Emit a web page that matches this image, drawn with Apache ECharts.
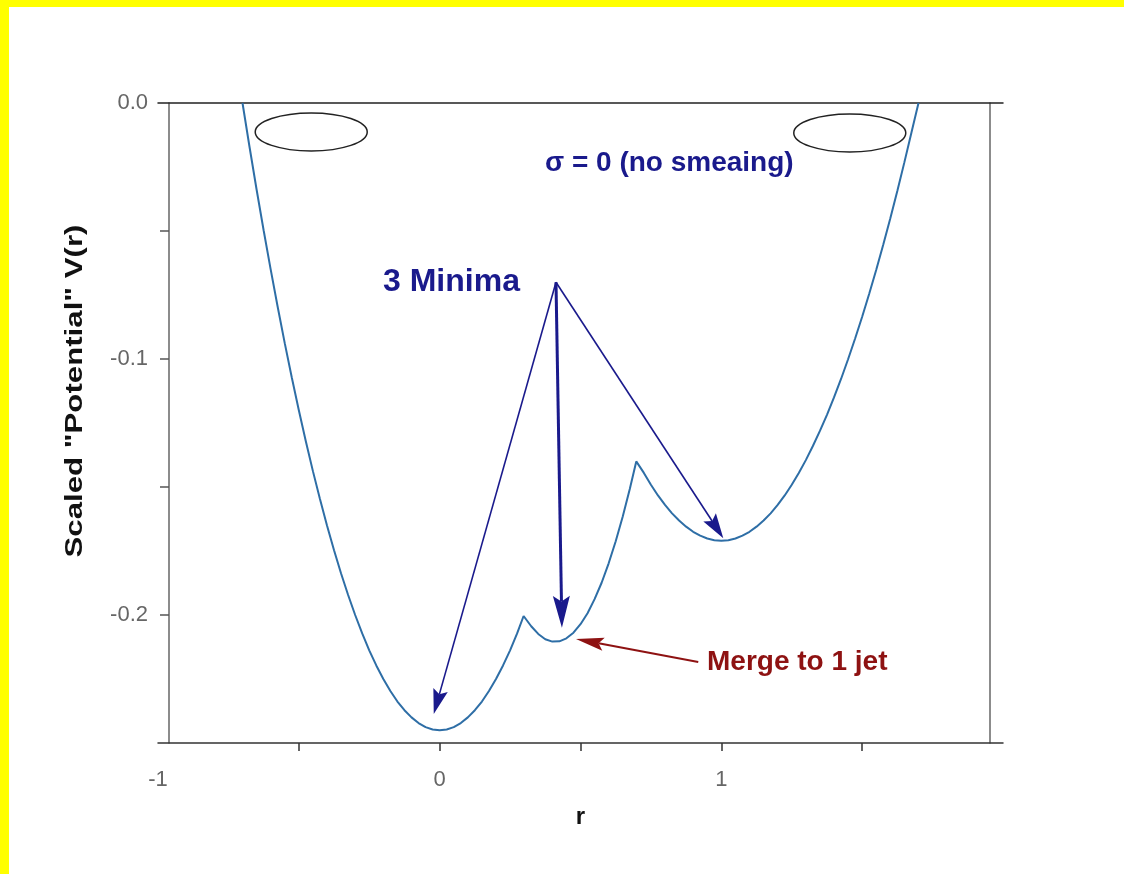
<!DOCTYPE html>
<html>
<head>
<meta charset="utf-8">
<script src="https://cdn.jsdelivr.net/npm/echarts@6/dist/echarts.min.js"></script>
<style>
  html, body { margin: 0; padding: 0; background: #ffffff; }
  #chart { position: absolute; left: 0; top: 0; width: 1124px; height: 874px; }
  .band-top { position: absolute; left: 0; top: 0; width: 1124px; height: 7px; background: #ffff00; }
  .band-left { position: absolute; left: 0; top: 0; width: 9px; height: 874px; background: #ffff00; }
</style>
</head>
<body>
<div id="chart"></div>
<div class="band-top"></div>
<div class="band-left"></div>
<script>
// Scaled potential V(r) along r (no smearing); cusps near r = 0.298 and r = 0.698
const rValues = [
  -0.700, -0.675, -0.650, -0.625, -0.600, -0.575, -0.550, -0.525, -0.500, -0.475,
  -0.450, -0.425, -0.400, -0.375, -0.350, -0.325, -0.300, -0.275, -0.250, -0.225,
  -0.200, -0.175, -0.150, -0.125, -0.100, -0.075, -0.050, -0.025, 0.000, 0.025,
  0.050, 0.075, 0.100, 0.125, 0.150, 0.175, 0.200, 0.225, 0.250, 0.275, 0.298,
  0.325, 0.350, 0.375, 0.400, 0.425, 0.450, 0.475, 0.500, 0.525, 0.550, 0.575,
  0.600, 0.625, 0.650, 0.675, 0.698,
  0.725, 0.750, 0.775, 0.800, 0.825, 0.850, 0.875, 0.900, 0.925, 0.950, 0.975,
  1.000, 1.025, 1.050, 1.075, 1.100, 1.125, 1.150, 1.175, 1.200, 1.225, 1.250,
  1.275, 1.300, 1.325, 1.350, 1.375, 1.400, 1.425, 1.450, 1.475, 1.500, 1.525,
  1.550, 1.575, 1.600, 1.625, 1.650, 1.675, 1.700
];
const vValues = [
  0.0000, -0.0172, -0.0338, -0.0497, -0.0650, -0.0797, -0.0938, -0.1072, -0.1200, -0.1322,
  -0.1438, -0.1547, -0.1650, -0.1747, -0.1838, -0.1922, -0.2000, -0.2072, -0.2138, -0.2197,
  -0.2250, -0.2297, -0.2338, -0.2372, -0.2400, -0.2422, -0.2438, -0.2447, -0.2450, -0.2447,
  -0.2438, -0.2422, -0.2400, -0.2372, -0.2338, -0.2297, -0.2250, -0.2197, -0.2138, -0.2072, -0.2004,
  -0.2044, -0.2074, -0.2095, -0.2104, -0.2103, -0.2091, -0.2069, -0.2036, -0.1993, -0.1938, -0.1874,
  -0.1798, -0.1712, -0.1615, -0.1508, -0.1400,
  -0.1445, -0.1491, -0.1533, -0.1570, -0.1603, -0.1631, -0.1655, -0.1675, -0.1690, -0.1701, -0.1708,
  -0.1710, -0.1708, -0.1701, -0.1690, -0.1675, -0.1655, -0.1631, -0.1603, -0.1570, -0.1533, -0.1491,
  -0.1445, -0.1395, -0.1340, -0.1281, -0.1218, -0.1150, -0.1078, -0.1001, -0.0920, -0.0835, -0.0745,
  -0.0651, -0.0553, -0.0450, -0.0343, -0.0231, -0.0115, 0.0000
];

// Axis ranges, tick positions and labelled ticks
const xRange = [-1, 2];
const yRange = [-0.25, 0];
const xTicks = [-0.5, 0, 0.5, 1, 1.5];
const xTickLabels = [-1, 0, 1];
const yTicks = [-0.2, -0.15, -0.1, -0.05];
const yTickLabels = [0, -0.1, -0.2];

// Jet outlines (centres in r, V)
const jetCentres = [[-0.456, -0.0113], [1.456, -0.0117]];

// Arrows: [fromR, fromV, toR, toV]
const minimaArrows = [
  [0.413, -0.070, -0.021, -0.2387],
  [0.413, -0.070, 0.434, -0.2050],
  [0.413, -0.070, 1.007, -0.1700]
];
const mergeArrow = [[0.918, -0.2184, 0.484, -0.2094]];

const curveData = rValues.map((r, i) => [r, vValues[i]]);

const FONT = '"Liberation Sans", Arial, Helvetica, sans-serif';
const NAVY = '#1a1a8c';
const DARK_RED = '#8e1212';

// Straight shaft with a filled, slightly notched head at the target end
function arrowRenderer(color, widths, heads) {
  return function (params, api) {
    const i = params.dataIndex;
    const p1 = api.coord([api.value(0), api.value(1)]);
    const p2 = api.coord([api.value(2), api.value(3)]);
    const dx = p2[0] - p1[0], dy = p2[1] - p1[1];
    const len = Math.sqrt(dx * dx + dy * dy);
    const ux = dx / len, uy = dy / len;
    const nx = -uy, ny = ux;
    const h = heads[i % heads.length];
    const L = h[0], W = h[1];
    const bx = p2[0] - ux * L, by = p2[1] - uy * L;
    const nxp = p2[0] - ux * L * 0.82, nyp = p2[1] - uy * L * 0.82;
    return {
      type: 'group',
      children: [
        {
          type: 'line',
          shape: { x1: p1[0], y1: p1[1], x2: nxp, y2: nyp },
          style: { stroke: color, lineWidth: widths[i % widths.length] }
        },
        {
          type: 'polygon',
          shape: {
            points: [
              [p2[0], p2[1]],
              [bx + nx * W, by + ny * W],
              [nxp, nyp],
              [bx - nx * W, by - ny * W]
            ]
          },
          style: { fill: color }
        }
      ]
    };
  };
}

const chart = echarts.init(document.getElementById('chart'), null, { renderer: 'canvas' });

chart.setOption({
  animation: false,
  backgroundColor: '#ffffff',
  grid: { left: 158, right: 121, top: 103, bottom: 131, containLabel: false },
  xAxis: [
    {
      type: 'value', min: xRange[0], max: xRange[1], interval: 0.5,
      position: 'bottom',
      name: 'r', nameLocation: 'middle', nameGap: 62,
      nameTextStyle: { fontFamily: FONT, fontWeight: 'bold', fontSize: 24, color: '#111' },
      axisLine: { show: true, onZero: false, lineStyle: { color: '#333', width: 1.5 } },
      axisTick: { show: true, inside: false, length: 8, customValues: xTicks,
        lineStyle: { color: '#333', width: 1.5 } },
      axisLabel: {
        show: true, margin: 26, fontFamily: FONT, fontSize: 22, color: '#666',
        customValues: xTickLabels,
        formatter: function (v) { return String(Math.round(v)); }
      },
      splitLine: { show: false }
    },
    {
      type: 'value', min: xRange[0], max: xRange[1],
      position: 'top',
      axisLine: { show: true, onZero: false, lineStyle: { color: '#222', width: 1.5 } },
      axisTick: { show: false }, axisLabel: { show: false }, splitLine: { show: false }
    }
  ],
  yAxis: [
    {
      type: 'value', min: yRange[0], max: yRange[1], interval: 0.05,
      position: 'left', offset: -11,
      axisLine: { show: true, onZero: false, lineStyle: { color: '#666', width: 1.5 } },
      axisTick: { show: true, inside: false, length: 9, customValues: yTicks,
        lineStyle: { color: '#555', width: 1.5 } },
      axisLabel: {
        show: true, margin: 21, fontFamily: FONT, fontSize: 22, color: '#666',
        customValues: yTickLabels,
        formatter: function (v) { return v.toFixed(1); }
      },
      splitLine: { show: false }
    },
    {
      type: 'value', min: yRange[0], max: yRange[1],
      position: 'right', offset: -13,
      axisLine: { show: true, onZero: false, lineStyle: { color: '#666', width: 1.5 } },
      axisTick: { show: false }, axisLabel: { show: false }, splitLine: { show: false }
    }
  ],
  series: [
    {
      name: 'V(r)',
      type: 'line',
      xAxisIndex: 0, yAxisIndex: 0,
      data: curveData,
      showSymbol: false,
      smooth: false,
      lineStyle: { color: '#2e6ea6', width: 2 },
      z: 3
    },
    {
      name: 'jets',
      type: 'custom',
      xAxisIndex: 0, yAxisIndex: 0,
      data: jetCentres,
      renderItem: function (params, api) {
        const c = api.coord([api.value(0), api.value(1)]);
        return {
          type: 'ellipse',
          shape: { cx: c[0], cy: c[1], rx: 56, ry: 19 },
          style: { fill: 'rgba(0,0,0,0)', stroke: '#222', lineWidth: 1.5 }
        };
      },
      z: 4
    },
    {
      name: 'minima arrows',
      type: 'custom',
      xAxisIndex: 0, yAxisIndex: 0,
      data: minimaArrows,
      renderItem: arrowRenderer(NAVY, [1.6, 3, 1.6], [[25, 7.5], [32, 8.5], [25, 7.5]]),
      z: 5
    },
    {
      name: 'merge arrow',
      type: 'custom',
      xAxisIndex: 0, yAxisIndex: 0,
      data: mergeArrow,
      renderItem: arrowRenderer(DARK_RED, [2], [[28, 6.5]]),
      z: 5
    }
  ],
  graphic: [
    {
      type: 'text', x: 75, y: 391, rotation: Math.PI / 2, scaleX: 1.3,
      style: {
        text: 'Scaled "Potential" V(r)', font: 'bold 24px ' + FONT, fill: '#111',
        textAlign: 'center', textVerticalAlign: 'middle'
      }
    },
    {
      type: 'text', x: 383, y: 282,
      style: { text: '3 Minima', font: 'bold 32px ' + FONT, fill: NAVY, textAlign: 'left', textVerticalAlign: 'middle' }
    },
    {
      type: 'text', x: 545, y: 163,
      style: { text: 'σ = 0 (no smeaing)', font: 'bold 28px ' + FONT, fill: NAVY, textAlign: 'left', textVerticalAlign: 'middle' }
    },
    {
      type: 'text', x: 707, y: 662,
      style: { text: 'Merge to 1 jet', font: 'bold 28px ' + FONT, fill: DARK_RED, textAlign: 'left', textVerticalAlign: 'middle' }
    }
  ]
});
</script>
</body>
</html>
